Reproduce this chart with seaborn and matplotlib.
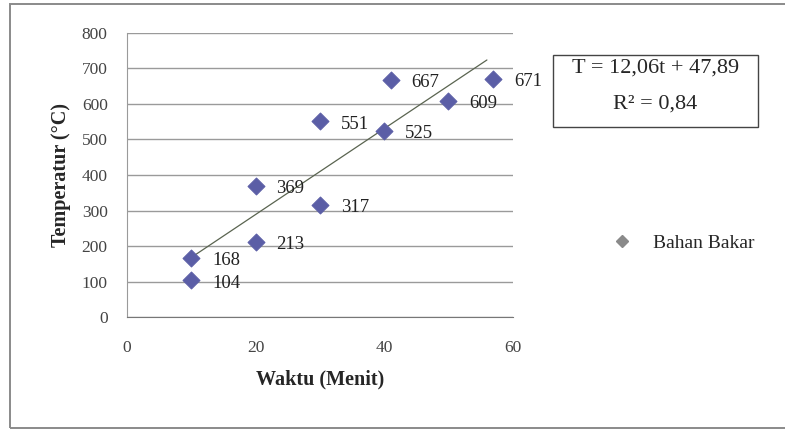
import numpy as np
import pandas as pd
import matplotlib
matplotlib.use("Agg")
import matplotlib.pyplot as plt
import seaborn as sns
from matplotlib.patches import Rectangle

# data
waktu = [10, 10, 20, 20, 30, 30, 40, 41, 50, 57]
suhu = [104, 168, 213, 369, 317, 551, 525, 667, 609, 671]
slope = 12.06
intercept = 47.89
trend_x = [10, 56]
yticks = [0, 100, 200, 300, 400, 500, 600, 700, 800]
xticks = [0, 20, 40, 60]

df = pd.DataFrame({"Waktu": waktu, "Suhu": suhu})

sns.set_style("white")
plt.rcParams["font.family"] = ["Liberation Serif", "DejaVu Serif"]

fig = plt.figure(figsize=(7.85, 4.3), dpi=100)
ax = fig.add_axes([0.162, 0.262, 0.491, 0.662])

# outer frame of the chart
fig.patches.append(Rectangle((0.013, 0.005), 0.99, 0.985, transform=fig.transFigure,
                             fill=False, edgecolor="#8a8a8a", lw=1.4))

ax.grid(axis="y", color="#9a9a9a", lw=1.0)
ax.set_axisbelow(True)

tx = np.array(trend_x)
ax.plot(tx, slope * tx + intercept, color="#5a6450", lw=0.9, zorder=2)

sns.scatterplot(data=df, x="Waktu", y="Suhu", marker="D", s=75, color="#5b5ea6",
                edgecolor="#5b5ea6", ax=ax, zorder=3, legend=False)

for x, y in zip(waktu, suhu):
    ax.annotate(str(y), (x, y), xytext=(15, -2), textcoords="offset points",
                fontsize=13.5, va="center", ha="left", color="#222222", zorder=4)

ax.set_xlim(0, 60)
ax.set_ylim(0, 800)
ax.set_xticks(xticks)
ax.set_yticks(yticks)
ax.tick_params(axis="both", labelsize=12.5, colors="#444444")
ax.tick_params(axis="x", direction="out", length=4, width=0.8, color="#777777", pad=12)
ax.tick_params(axis="y", length=0, pad=14)
for s in ["top", "right"]:
    ax.spines[s].set_visible(False)
ax.spines["left"].set_color("#9a9a9a")
ax.spines["bottom"].set_color("#777777")

ax.set_xlabel("Waktu (Menit)", fontsize=14.5, fontweight="bold", labelpad=10)
ax.set_ylabel("Temperatur (\u00b0C)", fontsize=14.5, fontweight="bold", labelpad=8)

# equation box
fig.patches.append(Rectangle((0.705, 0.705), 0.26, 0.167, transform=fig.transFigure,
                             facecolor="white", edgecolor="#444444", lw=1.0))
fig.text(0.835, 0.842, "T = 12,06t + 47,89", ha="center", va="center", fontsize=16)
fig.text(0.835, 0.758, "R\u00b2 = 0,84", ha="center", va="center", fontsize=16)

# legend entry
fig.legend(handles=[plt.Line2D([], [], marker="D", ls="", color="#8a8a8a", markersize=6)],
           labels=["Bahan Bakar"], loc="center left", bbox_to_anchor=(0.745, 0.435),
           frameon=False, fontsize=14, handletextpad=0.6)

plt.savefig("out.png", dpi=100)
